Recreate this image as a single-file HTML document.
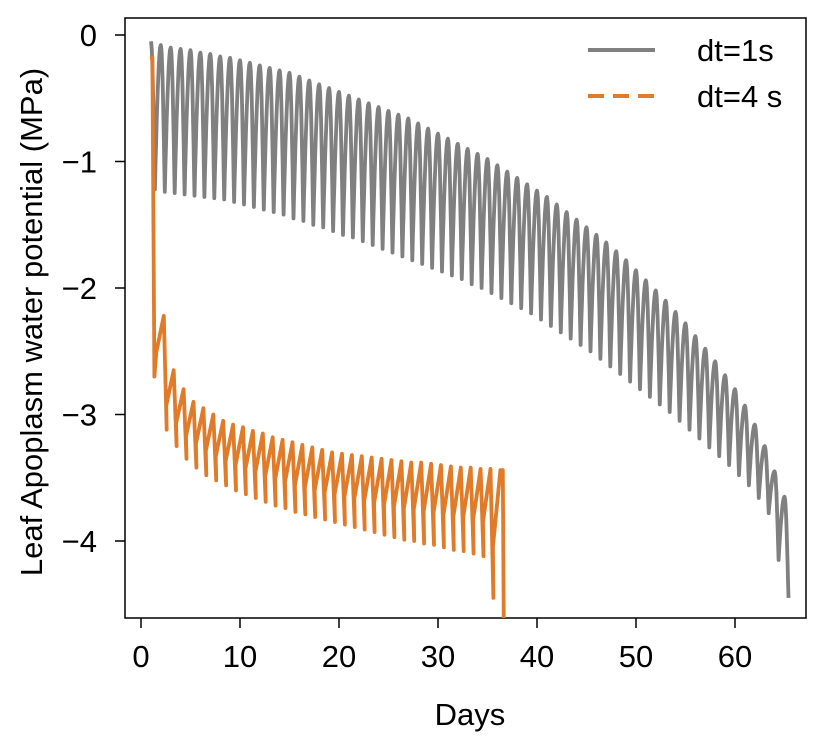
<!DOCTYPE html>
<html><head><meta charset="utf-8"><style>
body{margin:0;background:#fff}
svg{font-family:"Liberation Sans",sans-serif}
</style></head><body>
<svg id="chart" width="834" height="751">
<rect x="125" y="18" width="681" height="600" fill="none" stroke="#000" stroke-width="1.5"/>
<g id="axes"></g>
<g id="series"></g>
<text x="470" y="725" font-size="31" text-anchor="middle">Days</text>
<text transform="translate(42,322) rotate(-90)" font-size="31" text-anchor="middle">Leaf Apoplasm water potential (MPa)</text>
<g>
<line x1="588" y1="50" x2="655" y2="50" stroke="#808080" stroke-width="4"/>
<text x="697" y="61" font-size="31">dt=1s</text>
<line x1="588" y1="96" x2="655" y2="96" stroke="#e07b2a" stroke-width="4" stroke-dasharray="16,9"/>
<text x="697" y="107" font-size="31">dt=4 s</text>
</g>
</svg>
<script>
const xTicks=[0,10,20,30,40,50,60];
const yTicks=[0,-1,-2,-3,-4];
const yTickLabels=["0","\u22121","\u22122","\u22123","\u22124"];
const grayMax=[-0.05,-0.08,-0.1,-0.11,-0.12,-0.14,-0.15,-0.17,-0.18,-0.2,-0.22,-0.24,-0.26,-0.28,-0.3,-0.33,-0.36,-0.39,-0.42,-0.45,-0.48,-0.51,-0.54,-0.57,-0.6,-0.63,-0.66,-0.7,-0.74,-0.78,-0.82,-0.86,-0.9,-0.94,-0.98,-1.03,-1.08,-1.13,-1.18,-1.23,-1.28,-1.34,-1.4,-1.46,-1.52,-1.58,-1.64,-1.71,-1.78,-1.86,-1.94,-2.02,-2.1,-2.19,-2.28,-2.38,-2.48,-2.58,-2.69,-2.8,-2.93,-3.08,-3.25,-3.45,-3.65];
const grayMin=[-1.22,-1.24,-1.25,-1.26,-1.27,-1.28,-1.29,-1.3,-1.32,-1.34,-1.36,-1.38,-1.4,-1.42,-1.45,-1.47,-1.5,-1.52,-1.55,-1.58,-1.6,-1.63,-1.66,-1.69,-1.72,-1.75,-1.78,-1.81,-1.84,-1.87,-1.9,-1.93,-1.97,-2.0,-2.04,-2.08,-2.12,-2.16,-2.2,-2.25,-2.3,-2.35,-2.4,-2.45,-2.5,-2.56,-2.62,-2.68,-2.74,-2.8,-2.86,-2.92,-2.98,-3.05,-3.12,-3.19,-3.26,-3.33,-3.4,-3.48,-3.56,-3.66,-3.78,-4.15,-4.45];
const orangeStart=[-0.18,-0.18];
const orangeMax=[-2.22,-2.65,-2.8,-2.9,-2.95,-3.0,-3.05,-3.08,-3.1,-3.13,-3.15,-3.18,-3.2,-3.22,-3.24,-3.26,-3.28,-3.3,-3.31,-3.32,-3.33,-3.34,-3.35,-3.36,-3.37,-3.38,-3.38,-3.39,-3.4,-3.41,-3.42,-3.42,-3.43,-3.43,-3.44];
const orangeMin=[-2.7,-3.12,-3.25,-3.35,-3.42,-3.48,-3.52,-3.56,-3.6,-3.63,-3.66,-3.69,-3.72,-3.74,-3.77,-3.79,-3.81,-3.83,-3.85,-3.87,-3.89,-3.91,-3.93,-3.95,-3.97,-3.99,-4.0,-4.02,-4.03,-4.05,-4.07,-4.08,-4.1,-4.12,-4.45];
const orangeEnd=-4.7;
const X=d=>141+d*9.9;
const Y=v=>35-v*126.5;
const NS="http://www.w3.org/2000/svg";
const axes=document.getElementById('axes'),series=document.getElementById('series');
function mk(t,a,p){const e=document.createElementNS(NS,t);for(const k in a)e.setAttribute(k,a[k]);p.appendChild(e);return e;}
xTicks.forEach(t=>{
 const l=mk('line',{x1:X(t),x2:X(t),y1:618,y2:628,stroke:'#000','stroke-width':1.5},axes);
 
 
 const tx=mk('text',{x:X(t),y:667,'font-size':31,'text-anchor':'middle'},axes);tx.textContent=t;
 
 
});
yTicks.forEach((t,i)=>{
 const l=mk('line',{x1:115,x2:125,y1:Y(t),y2:Y(t),stroke:'#000','stroke-width':1.5},axes);
 
 
 const tx=mk('text',{x:97,y:Y(t)+11,'font-size':31,'text-anchor':'end'},axes);tx.textContent=yTickLabels[i];
 
 
});
// gray series
let pts=[];
for(let i=0;i<grayMax.length;i++){
 const d=1+i,mx=grayMax[i],mn=grayMin[i];
 const nx=i+1<grayMax.length?grayMax[i+1]:null;
 for(let s=0;s<=9;s++){const u=s/9;pts.push([d+0.4*u,mx-(mx-mn)*(1-Math.cos(u*Math.PI/2))]);}
 if(nx!==null){for(let s=1;s<=9;s++){const u=s/9;pts.push([d+0.4+0.6*u,mn+(nx-mn)*Math.sin(u*Math.PI/2)]);}}
}
let gp=mk('path',{d:'M'+pts.map(p=>X(p[0]).toFixed(1)+','+Y(p[1]).toFixed(1)).join('L'),fill:'none',stroke:'#808080','stroke-width':3.8,'stroke-linejoin':'round'},series);


// orange series
let op=[[0.9,orangeStart[0]],[1.15,orangeStart[1]],[1.35,orangeMin[0]]];
for(let i=0;i<orangeMax.length;i++){
 const d=2+i;
 op.push([d-0.45,(orangeMin[i]*0.6+orangeMax[i]*0.4)]);
 op.push([d+0.3,orangeMax[i]]);
 if(i+1<orangeMin.length) op.push([d+0.6,orangeMin[i+1]]);
}
op.push([X(0)+0*0+36.55-X(0),orangeMax[orangeMax.length-1]]);
op.push([36.65,orangeEnd]);
const clip=mk('clipPath',{id:'pc'},series);mk('rect',{x:125,y:18,width:681,height:600},clip);
let opath=mk('path',{d:'M'+op.map(p=>X(p[0]).toFixed(1)+','+Y(p[1]).toFixed(1)).join('L'),fill:'none',stroke:'#e07b2a','stroke-width':3.8,'stroke-linejoin':'round','clip-path':'url(#pc)'},series);


</script>
</body></html>
